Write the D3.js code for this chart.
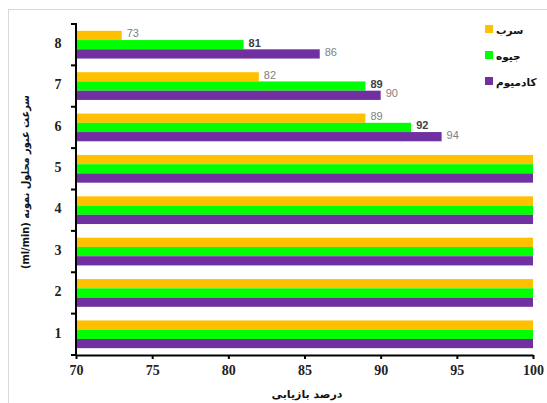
<!DOCTYPE html>
<html><head><meta charset="utf-8">
<script src="https://cdn.jsdelivr.net/npm/d3@7"></script>
<style>body{margin:0;background:#fff;}svg{display:block;}</style>
</head><body>
<svg id="c" width="547" height="403"></svg>
<script>
const categories = ["1","2","3","4","5","6","7","8"];
const seriesNames = ["سرب","جیوه","کادمیوم"];
const seriesColors = ["#FFC000","#00FF00","#7030A0"];
const lead    = [100,100,100,100,100,89,82,73];
const mercury = [100,100,100,100,100,92,89,81];
const cadmium = [100,100,100,100,100,94,90,86];
const xTicks = [70,75,80,85,90,95,100];
const xTitle = "درصد بازیابی";
const yTitle = "سرعت عبور محلول نمونه (ml/min)";

const seriesValues = [lead, mercury, cadmium];
const svg = d3.select("#c");
const W = 547, H = 403;
const m = {left:76, right:14, top:24, bottom:48};

svg.append("rect").attr("x",8.5).attr("y",9.5).attr("width",W).attr("height",H)
  .attr("fill","#fff").attr("stroke","#d9d9d9").attr("stroke-width",1);

const x = d3.scaleLinear().domain([70,100]).range([m.left, W-m.right]);
const y = d3.scaleBand().domain(categories.slice().reverse()).range([m.top, H-m.bottom]).paddingInner(0.33).paddingOuter(0.165);
const ySub = d3.scaleBand().domain(d3.range(seriesNames.length)).range([0, y.bandwidth()]);

const rows = [];
categories.forEach((c,i)=>seriesValues.forEach((vals,s)=>rows.push({c, s, v: vals[i]})));

svg.append("g").selectAll("rect").data(rows).join("rect")
  .attr("x", x(70))
  .attr("y", d=>y(d.c)+ySub(d.s))
  .attr("width", d=>x(d.v)-x(70))
  .attr("height", ySub.bandwidth())
  .attr("fill", d=>seriesColors[d.s]);

svg.append("g").selectAll("text").data(rows.filter(d=>d.v<100)).join("text")
  .attr("x", d=>x(d.v)+5)
  .attr("y", d=>y(d.c)+ySub(d.s)+ySub.bandwidth()/2-1)
  .attr("dominant-baseline","middle")
  .attr("font-family","Liberation Sans, Arial, sans-serif")
  .attr("font-size",11)
  .attr("font-weight", d=>d.s===1?"bold":"normal")
  .attr("fill", d=>d.s===1?"#404040":"#808080")
  .text(d=>d.v);

// axes
const yAxisTicks = d3.range(categories.length+1).map(i=>m.top + i*(H-m.bottom-m.top)/categories.length);
const gy = svg.append("g");
gy.append("line").attr("x1",x(70)).attr("x2",x(70)).attr("y1",m.top-1).attr("y2",H-m.bottom+1)
  .attr("stroke","#000").attr("stroke-width",2);
gy.selectAll("line.t").data(yAxisTicks).join("line").attr("class","t")
  .attr("x1",x(70)-5).attr("x2",x(70)).attr("y1",d=>d).attr("y2",d=>d)
  .attr("stroke","#000").attr("stroke-width",2);
gy.selectAll("text").data(categories).join("text")
  .attr("x",58).attr("y",d=>y(d)+y.bandwidth()/2)
  .attr("text-anchor","middle").attr("dominant-baseline","middle")
  .attr("font-family","Liberation Serif, Times New Roman, serif")
  .attr("font-weight","bold").attr("font-size",14).attr("fill","#222")
  .text(d=>d);

const xAxis = d3.axisBottom(x).tickValues(xTicks).tickSize(4).tickSizeOuter(0).tickPadding(6);
const gx = svg.append("g").attr("transform",`translate(0,${H-m.bottom})`).call(xAxis);
gx.select(".domain").attr("stroke","#000").attr("stroke-width",2);
gx.selectAll(".tick line").attr("stroke","#000").attr("stroke-width",2);
gx.selectAll(".tick text").attr("font-family","Liberation Serif, Times New Roman, serif")
  .attr("font-weight","bold").attr("font-size",14).attr("fill","#222");

svg.append("text").attr("x",307).attr("y",395)
  .attr("text-anchor","middle").attr("dominant-baseline","middle")
  .attr("font-family","DejaVu Sans, sans-serif").attr("font-weight","bold").attr("font-size",11)
  .attr("direction","rtl").attr("fill","#111").text(xTitle);

svg.append("text").attr("transform","translate(26,182) rotate(-90)")
  .attr("text-anchor","middle").attr("dominant-baseline","middle")
  .attr("font-family","DejaVu Sans, sans-serif").attr("font-weight","bold").attr("font-size",11)
  .attr("textLength",174).attr("lengthAdjust","spacingAndGlyphs")
  .attr("direction","rtl").attr("unicode-bidi","embed").attr("fill","#111").text(yTitle);

// legend
const lg = svg.append("g").selectAll("g").data(seriesNames).join("g")
  .attr("transform",(d,i)=>`translate(485,${25+i*26})`);
lg.append("rect").attr("width",8).attr("height",8).attr("fill",(d,i)=>seriesColors[i]);
lg.append("text").attr("x",11).attr("y",6).attr("dominant-baseline","middle")
  .attr("font-family","DejaVu Sans, sans-serif").attr("font-weight","bold").attr("font-size",10.5)
  .attr("fill","#111").text(d=>d);
</script>
</body></html>
